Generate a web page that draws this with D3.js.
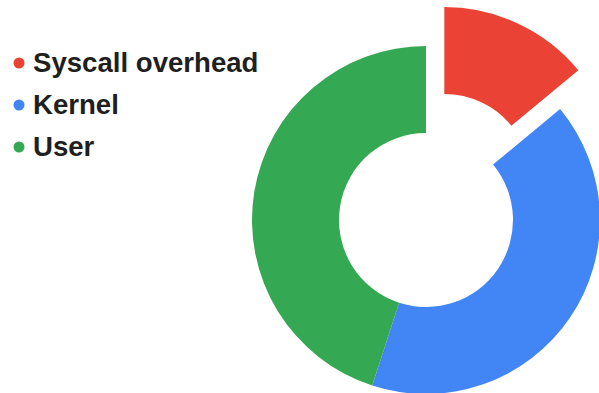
<!DOCTYPE html>
<html>
<head>
<meta charset="utf-8">
<script src="https://cdn.jsdelivr.net/npm/d3@7"></script>
<style>
  html, body { margin: 0; padding: 0; background: #fff; }
  svg { display: block; }
</style>
</head>
<body>
<svg id="chart" width="599" height="393"></svg>
<script>
// CPU time split
const categories = ["Syscall overhead", "Kernel", "User"];
const values = [14, 41, 45];
const colors = ["#EA4335", "#4285F4", "#34A853"];
const explodedIndex = 0;

const svg = d3.select("#chart");

const cx = 426, cy = 220;
const outerR = 174, innerR = 87;
const explodeOffset = 43;

const pie = d3.pie().sort(null).value(d => d.value).startAngle(0).endAngle(2 * Math.PI);
const arcs = pie(categories.map((c, i) => ({ name: c, value: values[i], color: colors[i], i })));

const arc = d3.arc().innerRadius(innerR).outerRadius(outerR);

const g = svg.append("g").attr("transform", `translate(${cx},${cy})`);

g.selectAll("path")
  .data(arcs)
  .join("path")
  .attr("d", arc)
  .attr("fill", d => d.data.color)
  .attr("transform", d => {
    if (d.data.i !== explodedIndex) return null;
    const mid = (d.startAngle + d.endAngle) / 2;
    return `translate(${Math.sin(mid) * explodeOffset},${-Math.cos(mid) * explodeOffset})`;
  });

// Legend
const legend = svg.append("g");
const rows = legend.selectAll("g")
  .data(categories)
  .join("g")
  .attr("transform", (d, i) => `translate(0,${72 + i * 42})`);

rows.append("circle")
  .attr("cx", 19)
  .attr("cy", -9)
  .attr("r", 5.5)
  .attr("fill", (d, i) => colors[i]);

rows.append("text")
  .attr("x", 33)
  .attr("y", 0)
  .attr("font-family", "'Liberation Sans', Arial, sans-serif")
  .attr("font-weight", "bold")
  .attr("font-size", 27.6)
  .attr("fill", "#1f1f1f")
  .text(d => d);
</script>
</body>
</html>
